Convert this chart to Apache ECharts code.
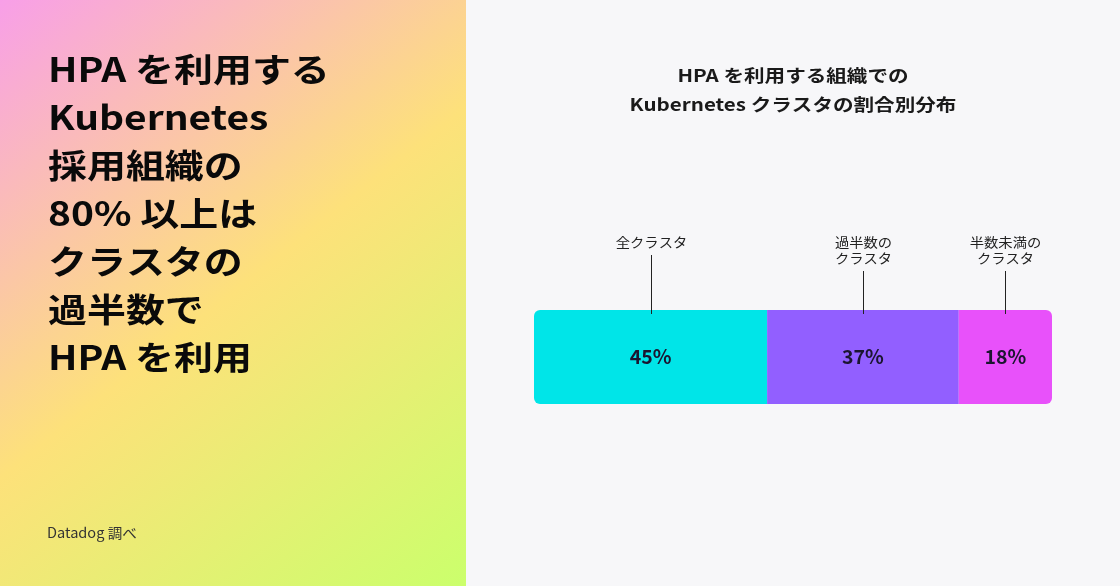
<!DOCTYPE html>
<html><head><meta charset="utf-8">
<script src="https://cdn.jsdelivr.net/npm/echarts@6/dist/echarts.min.js"></script>
<style>html,body{margin:0;padding:0;background:#f7f7f9}#c{width:1120px;height:586px}</style>
</head><body><div id="c"></div>
<script>
const categories = ['全クラスタ', '過半数の\nクラスタ', '半数未満の\nクラスタ'];
const values = [45, 37, 18];
const headline = 'HPA を利用する\nKubernetes\n採用組織の\n80% 以上は\nクラスタの\n過半数で\nHPA を利用';
const chartTitle = 'HPA を利用する組織での\nKubernetes クラスタの割合別分布';
const source = 'Datadog 調べ';

const FONT = '"Noto Sans CJK JP", "Noto Sans", sans-serif';
const colors = ['#00e5e8', '#925fff', '#e851fa'];
const GRID = {left: 534, top: 310, width: 518, height: 94};

const chart = echarts.init(document.getElementById('c'), null, {renderer: 'canvas'});

const series = values.map((v, i) => ({
  type: 'bar', stack: 'all', name: categories[i], barWidth: GRID.height,
  data: [v],
  itemStyle: {color: colors[i], borderRadius: i === 0 ? [6,0,0,6] : (i === values.length - 1 ? [0,6,6,0] : 0)},
  label: {show: true, position: 'inside', formatter: '{c}%', fontFamily: FONT, fontSize: 19.5, fontWeight: 'bold', color: '#1b1530'},
  silent: true
}));

const baseGraphic = [
  {type: 'rect', x: 0, y: 0, z: -10, shape: {width: 466, height: 586},
   style: {fill: new echarts.graphic.LinearGradient(0, 0, 1, 1, [
     {offset: 0, color: '#f89fe8'},
     {offset: 0.5, color: '#fde17a'},
     {offset: 1, color: '#cbff6c'}
   ])}},
  {type: 'text', x: 48, y: 45, z: 10, scaleX: 1.18,
   style: {text: headline, font: 'bold 33px ' + FONT, lineHeight: 48, fill: '#0a0a0a', verticalAlign: 'top'}},
  {type: 'text', x: 793, y: 61, z: 10, scaleX: 1.21,
   style: {text: chartTitle, font: 'bold 17px ' + FONT, lineHeight: 29, fill: '#1a1a1a', align: 'center', verticalAlign: 'top'}},
  {type: 'text', x: 47, y: 526, z: 10, scaleX: 1.04,
   style: {text: source, font: '14px ' + FONT, fill: '#333333', verticalAlign: 'top'}}
];

chart.setOption({
  backgroundColor: '#f7f7f9',
  animation: false,
  textStyle: {fontFamily: FONT},
  grid: {left: GRID.left, top: GRID.top, width: GRID.width, height: GRID.height},
  xAxis: {type: 'value', min: 0, max: 100, show: false},
  yAxis: {type: 'category', data: [''], show: false},
  series: series
});

// annotation labels and leader lines, positioned via the chart's scale
const ann = [];
let cum = 0;
values.forEach((v, i) => {
  const p = chart.convertToPixel({gridIndex: 0}, [cum + v / 2, 0]);
  cum += v;
  const x = Math.round(p[0]) + 0.5;
  const lines = categories[i].split('\n').length;
  const labelTop = 234;
  const lineStart = labelTop + lines * 16 + 5;
  ann.push({type: 'text', x: x, y: labelTop, z: 10, scaleX: 1.1,
    style: {text: categories[i], font: '13px ' + FONT, fill: '#222', align: 'center', verticalAlign: 'top', lineHeight: 16}});
  ann.push({type: 'line', z: 10, shape: {x1: x, y1: lineStart, x2: x, y2: GRID.top + 4},
    style: {stroke: '#222', lineWidth: 1}});
});
chart.setOption({graphic: baseGraphic.concat(ann)});
</script></body></html>
